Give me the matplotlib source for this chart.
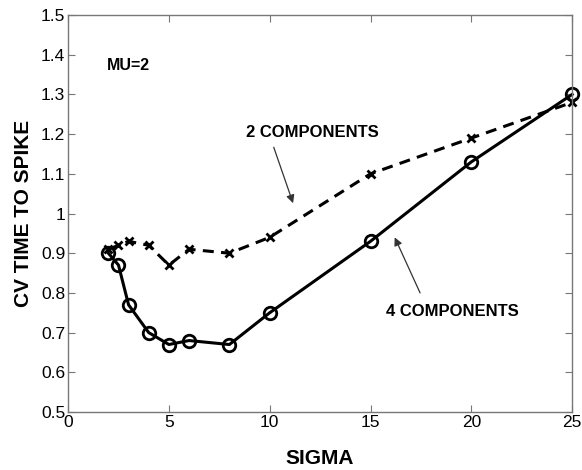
import matplotlib.pyplot as plt

plt.rcParams['font.family'] = ['Liberation Sans', 'DejaVu Sans']

sigma = [2, 2.5, 3, 4, 5, 6, 8, 10, 15, 20, 25]
cv_two = [0.91, 0.92, 0.93, 0.92, 0.87, 0.91, 0.90, 0.94, 1.10, 1.19, 1.28]
cv_four = [0.90, 0.87, 0.77, 0.70, 0.67, 0.68, 0.67, 0.75, 0.93, 1.13, 1.30]

x_ticks = [0, 5, 10, 15, 20, 25]
y_ticks = [0.5, 0.6, 0.7, 0.8, 0.9, 1.0, 1.1, 1.2, 1.3, 1.4, 1.5]
y_labels = ['0.5', '0.6', '0.7', '0.8', '0.9', '1', '1.1', '1.2', '1.3', '1.4', '1.5']


def main():
    fig = plt.figure(figsize=(5.82, 4.70), dpi=100)
    ax = fig.add_axes([0.117, 0.1234, 0.866, 0.8446])

    ax.plot(sigma, cv_two, color='black', lw=2.2, dashes=(3.6, 2.4),
            marker='x', ms=6, mew=2.0, clip_on=False)
    ax.plot(sigma, cv_four, color='black', lw=2.2, marker='o', ms=9,
            mfc='none', mew=2.0, clip_on=False)

    ax.set_xlim(0, 25)
    ax.set_ylim(0.5, 1.5)
    ax.set_xticks(x_ticks)
    ax.set_yticks(y_ticks)
    ax.set_yticklabels(y_labels)
    ax.tick_params(direction='in', top=True, right=True, length=5,
                   width=0.8, color='#777777', labelsize=12.5, pad=2)
    for s in ax.spines.values():
        s.set_color('#777777')
        s.set_linewidth(1.0)

    ax.set_xlabel('SIGMA', fontsize=15, fontweight='bold', labelpad=14)
    ax.set_ylabel('CV TIME TO SPIKE', fontsize=15, fontweight='bold', labelpad=6)

    ax.text(1.93, 1.374, 'MU=2', fontsize=11.5, fontweight='bold',
            va='center', ha='left')

    # labels and their pointer arrows
    ax.text(12.1, 1.205, '2 COMPONENTS', fontsize=12, fontweight='bold',
            ha='center', va='center')
    ax.annotate('', xy=(11.16, 1.026), xytext=(10.2, 1.167),
                arrowprops=dict(arrowstyle='-|>', color='#333333', lw=0.9,
                                mutation_scale=12, shrinkA=0, shrinkB=0))
    ax.text(19.05, 0.752, '4 COMPONENTS', fontsize=12, fontweight='bold',
            ha='center', va='center')
    ax.annotate('', xy=(16.2, 0.94), xytext=(17.46, 0.80),
                arrowprops=dict(arrowstyle='-|>', color='#333333', lw=0.9,
                                mutation_scale=12, shrinkA=0, shrinkB=0))

    fig.savefig('out.png', dpi=100)


if __name__ == "__main__":
    main()
